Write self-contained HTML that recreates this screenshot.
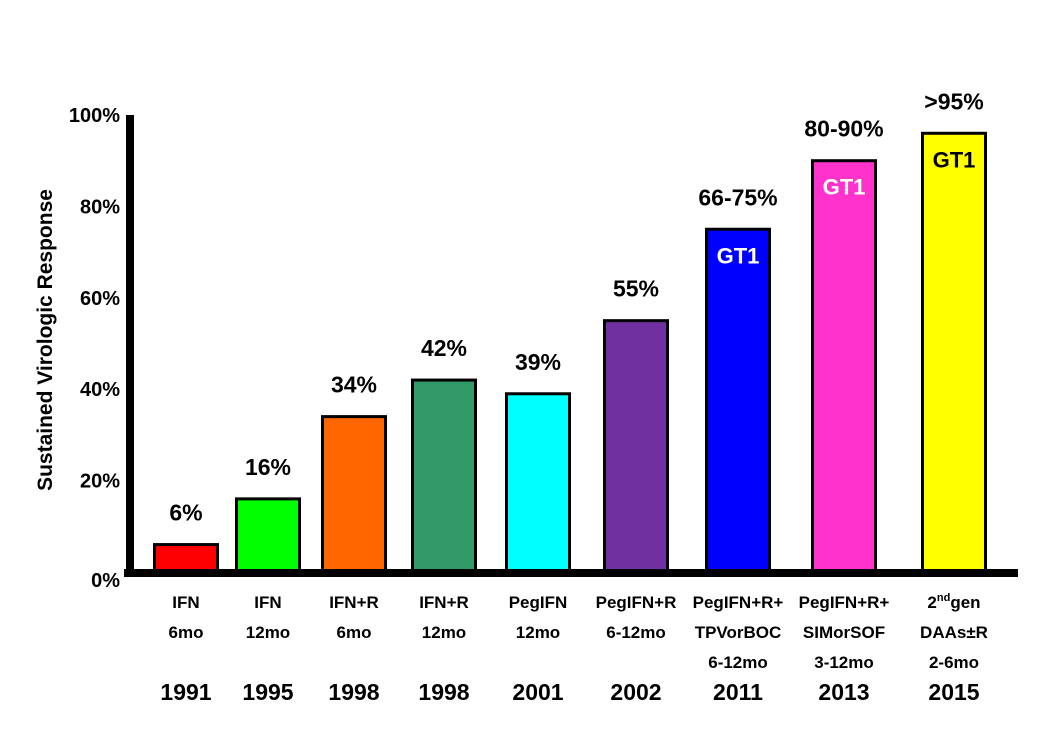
<!DOCTYPE html>
<html><head><meta charset="utf-8"><style>
body{margin:0;background:#fff}
svg{display:block;font-family:"Liberation Sans",Arial,sans-serif;font-weight:bold}
</style></head><body>
<svg id="c" width="1050" height="750"></svg>
<script>
const categories=[["IFN","6mo"],["IFN","12mo"],["IFN+R","6mo"],["IFN+R","12mo"],["PegIFN","12mo"],["PegIFN+R","6-12mo"],["PegIFN+R+","TPVorBOC","6-12mo"],["PegIFN+R+","SIMorSOF","3-12mo"],["2ndgen","DAAs±R","2-6mo"]];
const years=["1991","1995","1998","1998","2001","2002","2011","2013","2015"];
const values=[6,16,34,42,39,55,75,90,96];
const valueLabels=["6%","16%","34%","42%","39%","55%","66-75%","80-90%",">95%"];
const gtLabels=["","","","","","","GT1","GT1","GT1"];
const colors=["#ff0000","#00ff00","#ff6600","#339966","#00ffff","#7030a0","#0000ff","#ff33cc","#ffff00"];
const gtColors=["","","","","","","#fff","#fff","#000"];
const yTicks=[0,20,40,60,80,100];

const NS="http://www.w3.org/2000/svg";
const svg=document.getElementById("c");
function y(v){return 572-v*4.57;}
function x(i){return 186+80*i+2*i*i;}
const bw=63;
function mk(t,a,txt){const e=document.createElementNS(NS,t);for(const k in a)e.setAttribute(k,a[k]);if(txt!==undefined)e.textContent=txt;svg.appendChild(e);return e;}

yTicks.forEach(v=>{
  const t=mk("text",{x:120,y:y(v)+(v===0?15:7),"text-anchor":"end","font-size":20},v+"%");
  
  
});
const yt=mk("text",{x:0,y:0,transform:"translate(52,340) rotate(-90)","text-anchor":"middle","font-size":21},"Sustained Virologic Response");



values.forEach((v,i)=>{
  const cx=x(i);
  const r=mk("rect",{x:cx-bw/2,y:y(v),width:bw,height:y(0)-y(v),fill:colors[i],stroke:"#000","stroke-width":3});
  
  
  const vl=mk("text",{x:cx,y:y(v)-24,"text-anchor":"middle","font-size":23},valueLabels[i]);
  
  
  if(gtLabels[i]){
    const g=mk("text",{x:cx,y:y(v)+34,"text-anchor":"middle","font-size":22,fill:gtColors[i]},gtLabels[i]);
    
    
  }
  categories[i].forEach((ln,j)=>{
    const c=mk("text",{x:cx,y:608+j*30,"text-anchor":"middle","font-size":17});
    if(ln.startsWith("2nd")){
      const a=document.createElementNS(NS,"tspan");a.textContent="2";c.appendChild(a);
      const b=document.createElementNS(NS,"tspan");b.textContent="nd";b.setAttribute("dy","-7");b.setAttribute("font-size","11");c.appendChild(b);
      const d=document.createElementNS(NS,"tspan");d.textContent=ln.slice(3);d.setAttribute("dy","7");c.appendChild(d);
    } else c.textContent=ln;
    
    
  });
  const yr=mk("text",{x:cx,y:700,"text-anchor":"middle","font-size":23},years[i]);
  
  
});
const ya=mk("rect",{x:126,y:115,width:8,height:462,fill:"#000"});


const xa=mk("rect",{x:124,y:569,width:894,height:8,fill:"#000"});


</script>
</body></html>
